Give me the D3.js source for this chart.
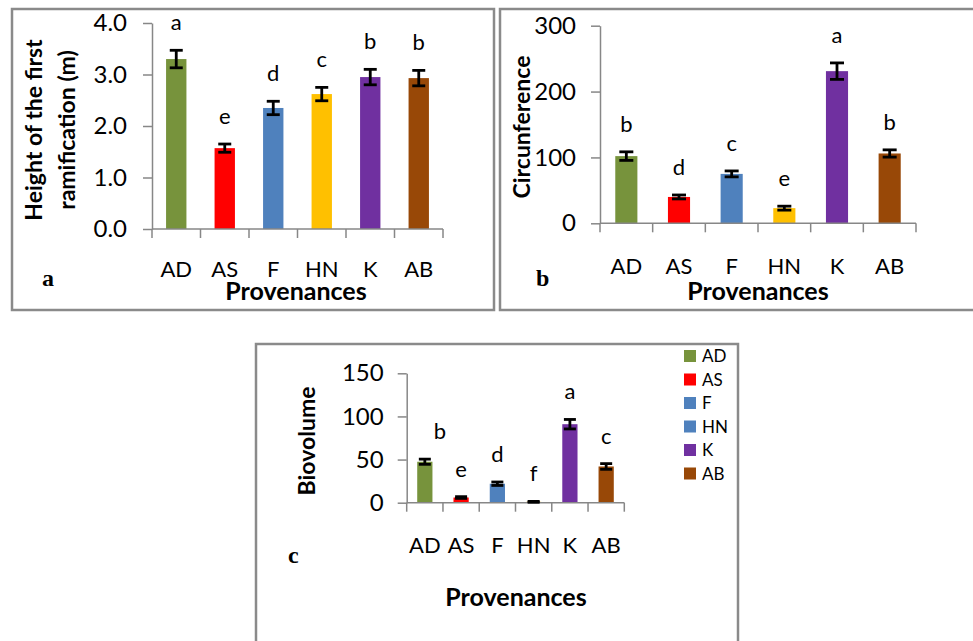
<!DOCTYPE html>
<html>
<head>
<meta charset="utf-8">
<script src="https://cdn.jsdelivr.net/npm/d3@7"></script>
<style>
  body { margin: 0; background: #fff; }
  text { font-family: Lato, "Open Sans", sans-serif; }
</style>
</head>
<body>
<svg id="chart" width="973" height="641"></svg>
<script>
// categories and colours
const provenances = ["AD", "AS", "F", "HN", "K", "AB"];
const barColors = ["#77933C", "#FF0000", "#4F81BD", "#FFC000", "#7030A0", "#984807"];
const legendColors = ["#77933C", "#FF0000", "#4F81BD", "#4F81BD", "#7030A0", "#984807"];

// a: height of the first ramification (m)
const heightMeans = [3.30, 1.57, 2.35, 2.62, 2.95, 2.93];
const heightErrors = [0.17, 0.08, 0.13, 0.13, 0.15, 0.15];
const heightLetters = ["a", "e", "d", "c", "b", "b"];
const heightTicks = [0, 1, 2, 3, 4];

// b: circunference
const circMeans = [102, 40, 75, 23, 231, 106];
const circErrors = [6.5, 3, 4.5, 3, 12.5, 5.5];
const circLetters = ["b", "d", "c", "e", "a", "b"];
const circTicks = [0, 100, 200, 300];

// c: biovolume
const bioMeans = [47.5, 6, 22, 1, 91, 42];
const bioErrors = [3, 1, 2, 0.5, 5.5, 3.3];
const bioLetters = ["b", "e", "d", "f", "a", "c"];
const bioTicks = [0, 50, 100, 150];

const svg = d3.select("#chart");
const axisColor = "#878787";

function drawPanel(opt) {
    const g = svg.append("g");

    g.append("rect")
        .attr("x", opt.box[0]).attr("y", opt.box[1])
        .attr("width", opt.box[2]).attr("height", opt.box[3])
        .attr("fill", "none")
        .attr("stroke", "#8a8a8a")
        .attr("stroke-width", 2.5);

    const x = d3.scaleBand().domain(provenances).range(opt.xRange).paddingInner(0).paddingOuter(0);
    const y = d3.scaleLinear().domain(opt.domain).range(opt.yRange);
    const bw = x.bandwidth() * 0.42;

    // y axis
    const yAxis = g.append("g")
        .attr("transform", `translate(${opt.xRange[0]},0)`)
        .call(d3.axisLeft(y).tickValues(opt.ticks).tickFormat(opt.format)
            .tickSizeInner(9).tickSizeOuter(0).tickPadding(opt.tickPad));
    yAxis.select(".domain").attr("stroke", axisColor).attr("stroke-width", 1.5);
    yAxis.selectAll(".tick line").attr("stroke", axisColor).attr("stroke-width", 1.5);
    yAxis.selectAll(".tick text")
        .attr("fill", "#000")
        .style("font-size", "24px")
        .style("font-family", "Lato, sans-serif");

    // bars
    g.selectAll(".bar")
        .data(opt.means)
        .enter().append("rect")
        .attr("x", (d, i) => x(provenances[i]) + (x.bandwidth() - bw) / 2)
        .attr("y", d => y(d))
        .attr("width", bw)
        .attr("height", d => y(0) - y(d))
        .attr("fill", (d, i) => barColors[i]);

    // x axis with ticks between categories
    const y0 = y(0);
    g.append("line")
        .attr("x1", opt.xRange[0]).attr("x2", opt.xRange[1])
        .attr("y1", y0).attr("y2", y0)
        .attr("stroke", axisColor).attr("stroke-width", 1.5);
    const bounds = provenances.map(p => x(p)).concat([opt.xRange[1]]);
    g.selectAll(".xtick")
        .data(bounds)
        .enter().append("line")
        .attr("x1", d => d).attr("x2", d => d)
        .attr("y1", y0).attr("y2", y0 + 9)
        .attr("stroke", axisColor).attr("stroke-width", 1.5);

    g.selectAll(".cat")
        .data(provenances)
        .enter().append("text")
        .attr("x", d => x(d) + x.bandwidth() / 2)
        .attr("y", opt.catY)
        .attr("text-anchor", "middle")
        .style("font-size", "22px")
        .text(d => d);

    // error bars
    const cap = opt.cap;
    opt.means.forEach((m, i) => {
        const cx = x(provenances[i]) + x.bandwidth() / 2;
        const top = y(m + opt.errors[i]);
        const bot = y(m - opt.errors[i]);
        const eg = g.append("g").attr("stroke", "#000").attr("stroke-width", 2.8);
        eg.append("line").attr("x1", cx).attr("x2", cx).attr("y1", top).attr("y2", bot);
        eg.append("line").attr("x1", cx - cap / 2).attr("x2", cx + cap / 2).attr("y1", top).attr("y2", top);
        eg.append("line").attr("x1", cx - cap / 2).attr("x2", cx + cap / 2).attr("y1", bot).attr("y2", bot);
    });

    // significance letters
    g.selectAll(".letter")
        .data(opt.letters)
        .enter().append("text")
        .attr("x", (d, i) => x(provenances[i]) + x.bandwidth() / 2 + (i === 0 ? opt.firstNudge : 0))
        .attr("y", (d, i) => y(opt.means[i] + opt.errors[i]) - 20)
        .attr("text-anchor", "middle")
        .style("font-size", "22px")
        .text(d => d);

    // axis titles
    g.append("text")
        .attr("x", opt.xTitle[0]).attr("y", opt.xTitle[1])
        .attr("text-anchor", "middle")
        .style("font-size", "25px").style("font-weight", "bold")
        .text("Provenances");

    opt.yTitle.forEach((line, k) => {
        g.append("text")
            .attr("transform", `translate(${opt.yTitleX[k]},${opt.yTitleY}) rotate(-90)`)
            .attr("text-anchor", "middle")
            .attr("dy", "0.35em")
            .style("font-size", "23px").style("font-weight", "bold")
            .text(line);
    });

    g.append("text")
        .attr("x", opt.tag[0]).attr("y", opt.tag[1])
        .style("font-family", "'Liberation Serif', 'Times New Roman', serif")
        .style("font-size", "24px").style("font-weight", "bold")
        .text(opt.tagText);

    return g;
}

drawPanel({
    box: [12, 9, 482, 301],
    xRange: [152, 443], yRange: [229, 23], domain: [0, 4],
    ticks: heightTicks, format: d3.format(".1f"), tickPad: 16,
    means: heightMeans, errors: heightErrors, letters: heightLetters, firstNudge: 0,
    cap: 13, catY: 277,
    xTitle: [296, 300],
    yTitle: ["Height of the first", "ramification  (m)"], yTitleX: [34, 67], yTitleY: 130,
    tag: [42, 286], tagText: "a"
});

drawPanel({
    box: [500, 9, 490, 301],
    xRange: [600, 916], yRange: [223.3, 25.7], domain: [0, 300],
    ticks: circTicks, format: d3.format("d"), tickPad: 15,
    means: circMeans, errors: circErrors, letters: circLetters, firstNudge: 0,
    cap: 14, catY: 274,
    xTitle: [758, 300],
    yTitle: ["Circunference"], yTitleX: [522], yTitleY: 127,
    tag: [536, 286], tagText: "b"
});

const pc = drawPanel({
    box: [256, 344, 482, 320],
    xRange: [406.7, 624.3], yRange: [502.7, 373.3], domain: [0, 150],
    ticks: bioTicks, format: d3.format("d"), tickPad: 14,
    means: bioMeans, errors: bioErrors, letters: bioLetters, firstNudge: 15,
    cap: 12, catY: 553,
    xTitle: [516, 606],
    yTitle: ["Biovolume"], yTitleX: [307], yTitleY: 441,
    tag: [288, 563], tagText: "c"
});

// legend for panel c
const legend = pc.selectAll(".leg")
    .data(provenances)
    .enter().append("g")
    .attr("transform", (d, i) => `translate(684,${356 + i * 23.5})`);
legend.append("rect")
    .attr("x", 0).attr("y", -6)
    .attr("width", 12).attr("height", 12)
    .attr("fill", (d, i) => legendColors[i]);
legend.append("text")
    .attr("x", 18).attr("dy", "0.36em")
    .style("font-size", "17px")
    .text(d => d);
</script>
</body>
</html>
